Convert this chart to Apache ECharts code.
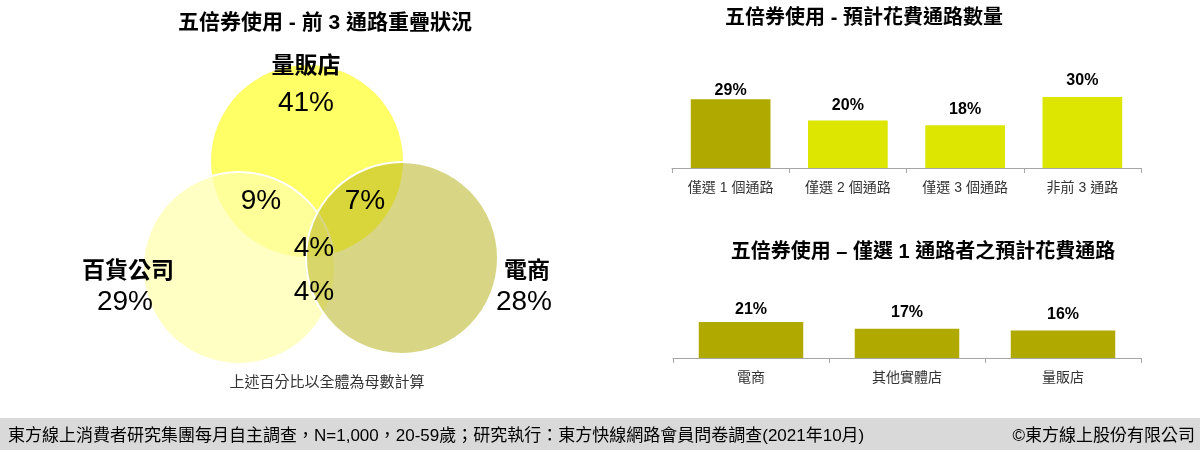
<!DOCTYPE html>
<html>
<head>
<meta charset="utf-8">
<script src="https://cdn.jsdelivr.net/npm/echarts@6/dist/echarts.min.js"></script>
<style>
html,body{margin:0;padding:0;background:#fff;}
#chart{width:1200px;height:450px;}
</style>
</head>
<body>
<div id="chart"></div>
<script>
// ---------- DATA ----------
const vennSets = ['量販店', '百貨公司', '電商'];
const vennSetShares = [41, 29, 28];
const vennOverlapNames = ['量販店∩百貨公司', '量販店∩電商', '三者皆有', '百貨公司∩電商'];
const vennOverlapShares = [9, 7, 4, 4];

const countCategories = ['僅選 1 個通路', '僅選 2 個通路', '僅選 3 個通路', '非前 3 通路'];
const countValues = [29, 20, 18, 30];

const singleCategories = ['電商', '其他實體店', '量販店'];
const singleValues = [21, 17, 16];

const titles = ['五倍券使用 - 前 3 通路重疊狀況', '五倍券使用 - 預計花費通路數量', '五倍券使用 – 僅選 1 通路者之預計花費通路'];
const vennNote = '上述百分比以全體為母數計算';
const sourceText = '東方線上消費者研究集團每月自主調查，N=1,000，20-59歲；研究執行：東方快線網路會員問卷調查(2021年10月)';
const copyrightText = '©東方線上股份有限公司';

// ---------- LAYOUT / STYLE ----------
const FONT = "'Liberation Sans', 'Noto Sans CJK TC', sans-serif";
const vennLayout = {
  centers: [[307, 161], [239, 268], [402, 258]],
  radius: 96,
  namePos: [[306, 67], [128, 272], [527, 272]],
  sharePos: [[306, 103], [125, 302], [524, 302]],
  overlapPos: [[261, 201], [365, 201], [314, 248], [314, 292]]
};
const vennColors = ['#FFFF66', 'rgba(255,255,173,0.72)', 'rgba(180,177,20,0.52)'];
const countColors = ['#B0AA00', '#DDE600', '#DDE600', '#DDE600'];
const countLabelDist = [1, 7, 8, 8];
const singleColor = '#B0AA00';
const singleLabelDist = [4, 8, 8];

const chart = echarts.init(document.getElementById('chart'), null, {renderer: 'canvas'});

const circleData = vennSets.map((n, i) => ({
  name: n,
  value: [vennLayout.centers[i][0], vennLayout.centers[i][1], vennLayout.radius, i]
}));

const textData = [];
vennSets.forEach((n, i) => {
  textData.push({value: [vennLayout.namePos[i][0], vennLayout.namePos[i][1]], t: n, size: 23, weight: 'bold'});
  textData.push({value: [vennLayout.sharePos[i][0], vennLayout.sharePos[i][1]], t: vennSetShares[i] + '%', size: 28, weight: 'normal'});
});
vennOverlapShares.forEach((v, i) => {
  textData.push({value: [vennLayout.overlapPos[i][0], vennLayout.overlapPos[i][1]], t: v + '%', size: 28, weight: 'normal', name: vennOverlapNames[i]});
});

function catAxis(grid, data) {
  return {
    type: 'category', gridIndex: grid, data: data,
    axisLine: {lineStyle: {color: '#A6A6A6', width: 1}},
    axisTick: {show: true, length: 5, lineStyle: {color: '#A6A6A6'}},
    axisLabel: {fontSize: 14, color: '#333', fontFamily: FONT, margin: 13}
  };
}

const option = {
  animation: false,
  backgroundColor: '#fff',
  grid: [
    {left: 0, top: 0, width: 600, height: 450, show: false},
    {left: 672, top: 73.2, width: 469, height: 94.8},
    {left: 673, top: 289.2, width: 468, height: 68.8}
  ],
  xAxis: [
    {type: 'value', gridIndex: 0, min: 0, max: 600, show: false},
    catAxis(1, countCategories),
    catAxis(2, singleCategories)
  ],
  yAxis: [
    {type: 'value', gridIndex: 0, min: 0, max: 450, inverse: true, show: false},
    {type: 'value', gridIndex: 1, min: 0, max: 40, show: false},
    {type: 'value', gridIndex: 2, min: 0, max: 40, show: false}
  ],
  graphic: [
    {type: 'rect', shape: {x: 0, y: 418, width: 1200, height: 32}, style: {fill: '#D9D9D9'}, z: 0},
    {type: 'text', x: 325, y: 23, style: {text: titles[0], fontSize: 21, fontWeight: 'bold', fontFamily: FONT, fill: '#000', align: 'center', verticalAlign: 'middle'}},
    {type: 'text', x: 864, y: 18, style: {text: titles[1], fontSize: 20, fontWeight: 'bold', fontFamily: FONT, fill: '#000', align: 'center', verticalAlign: 'middle'}},
    {type: 'text', x: 923, y: 252, style: {text: titles[2], fontSize: 20, fontWeight: 'bold', fontFamily: FONT, fill: '#000', align: 'center', verticalAlign: 'middle'}},
    {type: 'text', x: 327, y: 383, style: {text: vennNote, fontSize: 15, fontFamily: FONT, fill: '#333', align: 'center', verticalAlign: 'middle'}},
    {type: 'text', x: 8, y: 436, style: {text: sourceText, fontSize: 17, fontFamily: FONT, fill: '#000', align: 'left', verticalAlign: 'middle'}},
    {type: 'text', x: 1195, y: 436, style: {text: copyrightText, fontSize: 17, fontFamily: FONT, fill: '#000', align: 'right', verticalAlign: 'middle'}}
  ],
  series: [
    {
      type: 'custom', xAxisIndex: 0, yAxisIndex: 0, data: circleData, z: 1,
      renderItem: function (params, api) {
        const c = api.coord([api.value(0), api.value(1)]);
        const s = api.size([api.value(2), api.value(2)]);
        const idx = api.value(3);
        return {
          type: 'circle',
          shape: {cx: c[0], cy: c[1], r: s[0]},
          style: {fill: vennColors[idx], stroke: idx ? '#FFFFFF' : null, lineWidth: idx ? 2 : 0}
        };
      }
    },
    {
      type: 'custom', xAxisIndex: 0, yAxisIndex: 0, data: textData, z: 5,
      renderItem: function (params, api) {
        const d = textData[params.dataIndex];
        const c = api.coord([api.value(0), api.value(1)]);
        return {
          type: 'text', x: c[0], y: c[1],
          style: {text: d.t, fontSize: d.size, fontWeight: d.weight, fontFamily: FONT, fill: '#000', align: 'center', verticalAlign: 'middle'}
        };
      }
    },
    {
      type: 'bar', xAxisIndex: 1, yAxisIndex: 1, barWidth: '68%',
      data: countValues.map((v, i) => ({
        value: v,
        itemStyle: {color: countColors[i]},
        label: {distance: countLabelDist[i]}
      })),
      label: {show: true, position: 'top', formatter: '{c}%', fontSize: 16, fontWeight: 'bold', color: '#000', fontFamily: FONT}
    },
    {
      type: 'bar', xAxisIndex: 2, yAxisIndex: 2, barWidth: '67%',
      data: singleValues.map((v, i) => ({
        value: v,
        label: {distance: singleLabelDist[i]}
      })),
      itemStyle: {color: singleColor},
      label: {show: true, position: 'top', formatter: '{c}%', fontSize: 16, fontWeight: 'bold', color: '#000', fontFamily: FONT}
    }
  ]
};
chart.setOption(option);
</script>
</body>
</html>
